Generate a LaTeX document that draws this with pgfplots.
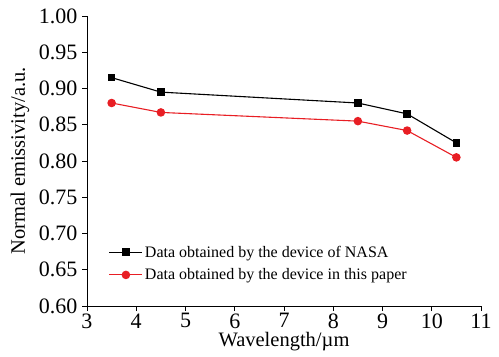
\documentclass[border=0pt]{standalone}
\usepackage{fontspec}
\setmainfont{Liberation Serif}
\usepackage{pgfplots}
\pgfplotsset{compat=1.18}
\definecolor{myred}{RGB}{232,30,36}
\begin{document}
\begin{tikzpicture}
\begin{axis}[
  name=ax,
  scale only axis,
  width=394pt, height=290pt,
  xmin=3, xmax=11, ymin=0.60, ymax=1.00,
  xtick={3,4,...,11},
  ytick={0.60,0.65,...,1.001},
  axis x line*=bottom, axis y line*=left,
  axis line style={-, line width=0.9pt},
  tick style={black, line width=0.9pt},
  tick align=outside,
  major tick length=5pt,
  /pgf/number format/assume math mode=true,
  ticklabel style={font=\fontsize{22}{22}\selectfont},
  xticklabel style={yshift=1pt},
  yticklabel style={xshift=-1pt, /pgf/number format/.cd, fixed, fixed zerofill, precision=2},
  xlabel={Wavelength/µm},
  ylabel={Normal emissivity/a.u.},
  label style={font=\fontsize{20.5}{20.5}\selectfont},
  xlabel style={at={(axis description cs:0.5,-0.124)}, anchor=center},
  ylabel style={at={(axis description cs:-0.170,0.5)}, anchor=center},
  legend style={draw=none, fill=none, inner sep=0pt, at={(0.055,0.215)}, anchor=north west,
     font=\fontsize{16}{16}\selectfont, row sep=6pt},
  legend cell align=left,
  legend image code/.code={\draw[mark repeat=2,mark phase=2,#1] plot coordinates {(0pt,0pt) (16.5pt,0pt) (33pt,0pt)};},
]
\addplot[black, line width=1.1pt, mark=square*, mark size=3.3pt]
  coordinates {(3.5,0.915) (4.5,0.895) (8.5,0.880) (9.5,0.865) (10.5,0.825)};
\addlegendentry{Data obtained by the device of NASA}
\addplot[myred, line width=1.1pt, mark=*, mark size=3.7pt]
  coordinates {(3.5,0.880) (4.5,0.867) (8.5,0.855) (9.5,0.842) (10.5,0.805)};
\addlegendentry{Data obtained by the device in this paper}
\end{axis}
\pgfresetboundingbox
\path ([shift={(-87pt,-50pt)}]ax.south west) rectangle ([shift={(18pt,16pt)}]ax.north east);
\end{tikzpicture}
\end{document}
